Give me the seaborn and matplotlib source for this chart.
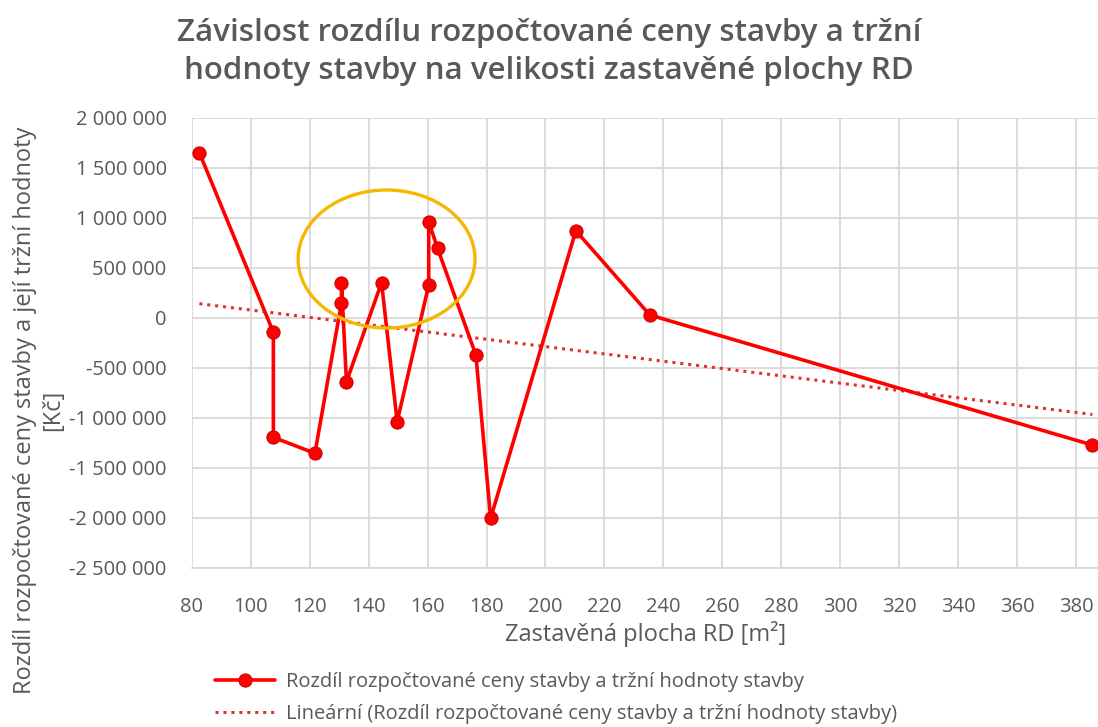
import numpy as np
import pandas as pd
import matplotlib
matplotlib.use("Agg")
import matplotlib.pyplot as plt
from matplotlib.patches import Ellipse
from matplotlib.ticker import FuncFormatter, MultipleLocator
import seaborn as sns

# Data, in original drawing order
plocha = [82.6, 107.7, 107.7, 121.8, 130.8, 130.8, 132.5, 144.4, 149.7,
          160.4, 160.4, 163.4, 176.4, 181.4, 210.3, 235.4, 385.5]
rozdil = [1650000, -146000, -1196000, -1356000, 150000, 350000, -640000,
          350000, -1040000, 327000, 960000, 694000, -373000, -2006000,
          870000, 27000, -1273000]

title = "Závislost rozdílu rozpočtované ceny stavby a tržní\nhodnoty stavby na velikosti zastavěné plochy RD"
xlabel = "Zastavěná plocha RD [m²]"
ylabel = "Rozdíl rozpočtované ceny stavby a její tržní hodnoty\n[Kč]"
series_name = "Rozdíl rozpočtované ceny stavby a tržní hodnoty stavby"
trend_name = "Lineární (Rozdíl rozpočtované ceny stavby a tržní hodnoty stavby)"

df = pd.DataFrame({"x": plocha, "y": rozdil})

sns.set_style("white")
plt.rcParams["font.family"] = ["Open Sans", "DejaVu Sans"]
gray = "#595959"

fig = plt.figure(figsize=(10.98, 7.27), dpi=100)
ax = fig.add_axes([191.7 / 1098, 1 - 567.7 / 727, (1098 - 191.7) / 1098, (567.7 - 117.7) / 727])

ax.set_xlim(80, 80 + (1098 - 191.7) / 2.948)
ax.set_ylim(-2500000, 2000000)
ax.xaxis.set_major_locator(MultipleLocator(20))
ax.yaxis.set_major_locator(MultipleLocator(500000))
ax.grid(True, color="#D9D9D9", linewidth=1.3)
ax.set_axisbelow(True)
for s in ["top", "right", "left"]:
    ax.spines[s].set_visible(False)
ax.spines["bottom"].set_color("#D9D9D9")
ax.spines["bottom"].set_linewidth(1.3)

# trend line (linear regression)
sns.regplot(data=df, x="x", y="y", scatter=False, ci=None, ax=ax,
            line_kws=dict(color="#E03030", linestyle=(0, (1, 1.6)), linewidth=2.2),
            label=trend_name)

sns.lineplot(data=df, x="x", y="y", sort=False, estimator=None, ax=ax,
             color="#FF0000", linewidth=2.6, marker="o", markersize=9.5,
             markeredgecolor="#D00000", markerfacecolor="#FF0000",
             label=series_name)

ax.add_patch(Ellipse((146.1, 587000), 60, 1380000, fill=False,
                     edgecolor="#F5B800", linewidth=2.4, zorder=5))

ax.yaxis.set_major_formatter(FuncFormatter(
    lambda v, p: f"{int(v):,}".replace(",", " ")))
ax.tick_params(axis="both", length=0, labelsize=14.5, labelcolor=gray)
ax.tick_params(axis="x", pad=21)
ax.tick_params(axis="y", pad=18)
ax.set_xlabel("")
ax.set_ylabel("")

fig.text(0.5, 1 - 52 / 727, title, ha="center", va="center",
         fontsize=22.5, fontweight="semibold", color=gray, linespacing=1.35)
fig.text(646 / 1098, 1 - 634 / 727, xlabel, ha="center", va="center",
         fontsize=17, color=gray)
fig.text(39 / 1098, 1 - 410 / 727, ylabel, ha="center", va="center",
         rotation=90, fontsize=17, color=gray, multialignment="center",
         linespacing=1.25)

handles, labels = ax.get_legend_handles_labels()
order = [labels.index(series_name), labels.index(trend_name)]
leg = ax.legend([handles[i] for i in order], [labels[i] for i in order],
                loc="upper left", bbox_to_anchor=(211 / 1098, 1 - 668 / 727),
                bbox_transform=fig.transFigure, frameon=False, fontsize=14.5,
                labelcolor=gray, numpoints=1, handlelength=3.0,
                handletextpad=0.5, labelspacing=0.6, borderaxespad=0,
                borderpad=0.2)

fig.savefig("out.png", dpi=100)
